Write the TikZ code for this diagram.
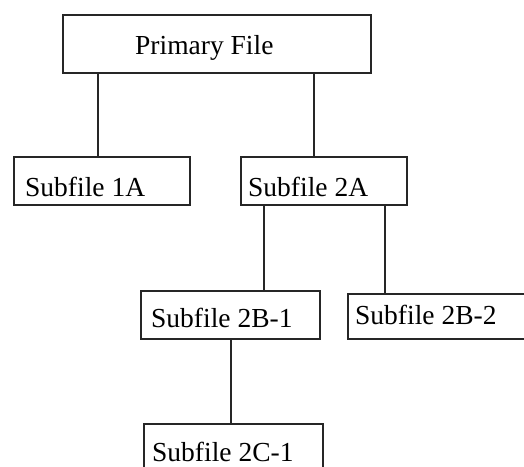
\documentclass[tikz,border=0pt]{standalone}
\usepackage{fontspec}
\setmainfont{Liberation Serif}
\begin{document}
\begin{tikzpicture}[x=1pt,y=-1pt,
  box/.style={draw=black!85, line width=1.6pt, fill=white, inner sep=0pt, anchor=north west},
  lbl/.style={anchor=base west, inner sep=0pt, font=\fontsize{27.5}{27.5}\selectfont},
  link/.style={draw=black!85, line width=1.6pt}]
\useasboundingbox (0,0) rectangle (524,466);
\clip (0,0) rectangle (524,466);
\node[box, minimum width=308, minimum height=58] (p) at (62,14) {};
\node[box, minimum width=176, minimum height=48] (a1) at (13,156) {};
\node[box, minimum width=166, minimum height=48] (a2) at (240,156) {};
\node[box, minimum width=179, minimum height=48] (b1) at (140,290) {};
\node[box, minimum width=250, minimum height=45] (b2) at (347,293) {};
\node[box, minimum width=179, minimum height=60] (c1) at (143,423) {};
\node[lbl] (pt) at (135,54) {Primary File};
\node[lbl] (a1t) at (25,196) {Subfile 1A};
\node[lbl] (a2t) at (248,196) {Subfile 2A};
\node[lbl] (b1t) at (151,327) {Subfile 2B-1};
\node[lbl] (b2t) at (355,324) {Subfile 2B-2};
\node[lbl] (c1t) at (152,461) {Subfile 2C-1};
\draw[link] (p.south -| 98,0) -- (a1.north -| 98,0);
\draw[link] (p.south -| 314,0) -- (a2.north -| 314,0);
\draw[link] (a2.south -| 264,0) -- (b1.north -| 264,0);
\draw[link] (a2.south -| 385,0) -- (b2.north -| 385,0);
\draw[link] (b1.south -| 231,0) -- (c1.north -| 231,0);
\end{tikzpicture}
\end{document}
